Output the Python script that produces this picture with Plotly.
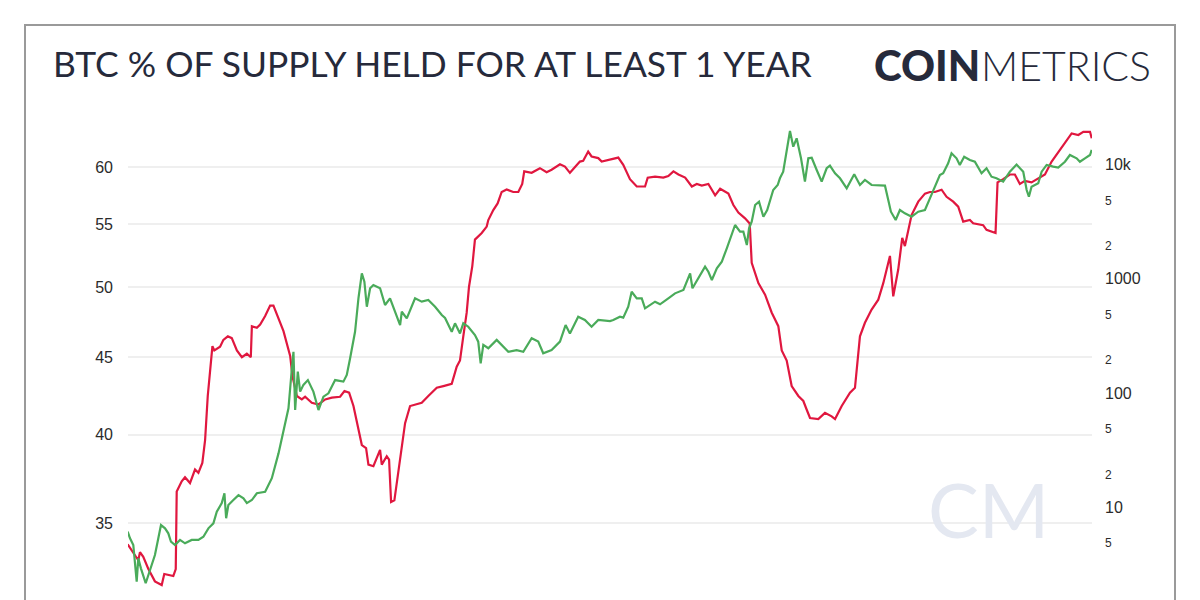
import pandas as pd
import plotly.graph_objects as go

# ---------------- data ----------------
# % of BTC supply held for at least 1 year (left axis), x as decimal year
red_year = [
    2011.718, 2011.787, 2011.818, 2011.834, 2011.865, 2011.912, 2011.975, 2012.039, 2012.063, 2012.148,
    2012.171, 2012.180, 2012.227, 2012.258, 2012.305, 2012.352, 2012.384, 2012.421, 2012.447, 2012.472,
    2012.516, 2012.534, 2012.588, 2012.619, 2012.661, 2012.698, 2012.746, 2012.793, 2012.840, 2012.877,
    2012.887, 2012.934, 2012.965, 2013.012, 2013.059, 2013.090, 2013.138, 2013.185, 2013.248, 2013.270,
    2013.311, 2013.358, 2013.389, 2013.452, 2013.515, 2013.578, 2013.641, 2013.719, 2013.760, 2013.804,
    2013.845, 2013.877, 2013.924, 2013.964, 2013.986, 2014.033, 2014.096, 2014.112, 2014.159, 2014.181,
    2014.200, 2014.231, 2014.285, 2014.332, 2014.379, 2014.426, 2014.489, 2014.551, 2014.631, 2014.693,
    2014.772, 2014.819, 2014.850, 2014.881, 2014.913, 2014.935, 2014.966, 2014.991, 2015.055, 2015.102,
    2015.117, 2015.164, 2015.205, 2015.243, 2015.290, 2015.352, 2015.400, 2015.437, 2015.456, 2015.526,
    2015.604, 2015.667, 2015.714, 2015.793, 2015.840, 2015.887, 2015.934, 2015.981, 2016.012, 2016.059,
    2016.091, 2016.154, 2016.186, 2016.264, 2016.311, 2016.342, 2016.389, 2016.452, 2016.516, 2016.594,
    2016.619, 2016.688, 2016.766, 2016.813, 2016.861, 2016.908, 2016.971, 2017.034, 2017.081, 2017.128,
    2017.190, 2017.254, 2017.301, 2017.379, 2017.426, 2017.473, 2017.536, 2017.580, 2017.599, 2017.662,
    2017.725, 2017.788, 2017.850, 2017.882, 2017.929, 2017.976, 2018.039, 2018.086, 2018.117, 2018.149,
    2018.227, 2018.290, 2018.353, 2018.385, 2018.448, 2018.526, 2018.573, 2018.620, 2018.667, 2018.730,
    2018.793, 2018.840, 2018.903, 2018.934, 2018.981, 2019.019, 2019.044, 2019.107, 2019.170, 2019.233,
    2019.280, 2019.327, 2019.390, 2019.437, 2019.500, 2019.547, 2019.594, 2019.657, 2019.688, 2019.782,
    2019.814, 2019.899, 2019.918, 2019.971, 2020.034, 2020.081, 2020.128, 2020.175, 2020.238, 2020.317,
    2020.364, 2020.427, 2020.505, 2020.583, 2020.615, 2020.678, 2020.725, 2020.788, 2020.804,
]
red_pct = [
    33.89, 33.34, 33.08, 33.49, 33.25, 32.66, 32.04, 31.86, 32.40, 32.30,
    32.64, 36.71, 37.28, 37.51, 37.18, 37.95, 37.76, 38.33, 39.67, 42.42,
    45.74, 45.45, 45.70, 46.18, 46.43, 46.30, 45.45, 44.98, 45.22, 44.98,
    47.15, 47.03, 47.27, 47.88, 48.64, 48.64, 47.63, 46.79, 45.07, 43.70,
    42.42, 42.20, 42.37, 41.99, 41.88, 42.20, 42.31, 42.37, 42.74, 42.63,
    41.78, 40.71, 39.38, 39.20, 38.23, 38.14, 39.10, 38.23, 38.72, 38.52,
    36.13, 36.22, 38.72, 40.71, 41.78, 41.88, 41.99, 42.42, 42.95, 43.06,
    43.21, 44.34, 44.76, 46.43, 48.12, 50.05, 51.64, 53.75, 54.29, 54.82,
    55.37, 56.21, 56.78, 57.77, 57.99, 57.77, 57.77, 58.48, 59.60, 59.47,
    59.89, 59.52, 59.75, 60.25, 60.03, 59.47, 60.03, 60.49, 60.56, 61.42,
    60.96, 60.81, 60.49, 60.65, 60.81, 60.86, 60.19, 58.90, 58.25, 58.25,
    59.04, 59.13, 59.04, 59.18, 59.60, 59.32, 59.04, 58.25, 58.48, 58.33,
    58.48, 57.48, 58.05, 57.63, 56.64, 56.00, 55.51, 55.08, 51.90, 50.32,
    49.45, 48.12, 47.15, 45.45, 44.76, 43.06, 42.42, 42.10, 41.56, 41.03,
    40.96, 41.35, 41.13, 40.96, 41.78, 42.63, 42.95, 46.43, 47.39, 48.35,
    49.08, 50.32, 52.44, 49.33, 51.37, 53.89, 53.23, 55.79, 56.93, 57.63,
    57.77, 57.77, 57.97, 57.35, 56.93, 56.50, 55.23, 55.37, 55.09, 54.94,
    54.55, 54.29, 58.62, 58.90, 59.32, 59.32, 58.48, 58.75, 58.62, 59.04,
    59.32, 60.49, 61.58, 62.67, 63.13, 62.98, 63.28, 63.28, 62.67,
]

# BTC price in USD (right axis, log), x as decimal year
price_year = [
    2011.718, 2011.740, 2011.771, 2011.803, 2011.818, 2011.843, 2011.888, 2011.928, 2011.975, 2012.007,
    2012.032, 2012.070, 2012.101, 2012.126, 2012.164, 2012.211, 2012.258, 2012.321, 2012.384, 2012.431,
    2012.478, 2012.525, 2012.557, 2012.604, 2012.629, 2012.645, 2012.666, 2012.713, 2012.761, 2012.808,
    2012.840, 2012.887, 2012.934, 2013.012, 2013.075, 2013.138, 2013.185, 2013.232, 2013.264, 2013.279,
    2013.295, 2013.320, 2013.342, 2013.373, 2013.415, 2013.467, 2013.515, 2013.562, 2013.609, 2013.672,
    2013.750, 2013.782, 2013.813, 2013.860, 2013.892, 2013.924, 2013.948, 2013.971, 2014.002, 2014.033,
    2014.096, 2014.143, 2014.190, 2014.238, 2014.285, 2014.301, 2014.348, 2014.426, 2014.489, 2014.551,
    2014.615, 2014.678, 2014.709, 2014.772, 2014.803, 2014.850, 2014.881, 2014.928, 2014.991, 2015.022,
    2015.045, 2015.070, 2015.117, 2015.196, 2015.258, 2015.306, 2015.384, 2015.447, 2015.526, 2015.588,
    2015.635, 2015.714, 2015.793, 2015.846, 2015.887, 2015.965, 2016.028, 2016.091, 2016.154, 2016.264,
    2016.295, 2016.358, 2016.389, 2016.436, 2016.468, 2016.516, 2016.563, 2016.594, 2016.688, 2016.735,
    2016.813, 2016.876, 2016.955, 2017.018, 2017.040, 2017.096, 2017.159, 2017.190, 2017.223, 2017.270,
    2017.317, 2017.364, 2017.404, 2017.442, 2017.489, 2017.520, 2017.553, 2017.574, 2017.599, 2017.631,
    2017.668, 2017.709, 2017.745, 2017.771, 2017.802, 2017.844, 2017.865, 2017.896, 2017.929, 2017.960,
    2017.991, 2018.023, 2018.064, 2018.101, 2018.133, 2018.165, 2018.212, 2018.259, 2018.306, 2018.337,
    2018.385, 2018.432, 2018.495, 2018.566, 2018.620, 2018.667, 2018.730, 2018.793, 2018.856, 2018.887,
    2018.912, 2018.957, 2018.997, 2019.044, 2019.107, 2019.170, 2019.233, 2019.280, 2019.327, 2019.374,
    2019.405, 2019.452, 2019.484, 2019.531, 2019.562, 2019.603, 2019.657, 2019.704, 2019.767, 2019.814,
    2019.861, 2019.908, 2019.971, 2020.034, 2020.097, 2020.160, 2020.192, 2020.213, 2020.238, 2020.301,
    2020.333, 2020.380, 2020.442, 2020.489, 2020.552, 2020.599, 2020.662, 2020.693, 2020.740, 2020.788,
    2020.804,
]
price_usd = [
    6.13, 5.37, 4.69, 2.24, 3.59, 2.93, 2.17, 2.83, 3.83, 5.37,
    7.01, 6.56, 5.93, 5.01, 4.69, 5.19, 4.85, 5.19, 5.19, 5.54,
    6.56, 7.26, 9.17, 10.9, 13.3, 8.03, 10.5, 11.6, 12.8, 12.0,
    10.9, 11.6, 13.3, 13.7, 18.0, 29.7, 45.9, 73.6, 165, 230,
    71.1, 154, 103, 118, 130, 103, 71.1, 93.0, 99.6, 130,
    126, 144, 201, 344, 675, 1117, 944, 570, 826, 883,
    826, 590, 675, 515, 394, 515, 451, 675, 631, 653,
    570, 482, 454, 344, 408, 333, 408, 381, 322, 282,
    182, 264, 247, 292, 255, 230, 238, 230, 302, 282,
    223, 238, 282, 394, 333, 466, 436, 381, 436, 427,
    436, 466, 457, 570, 771, 675, 675, 552, 631, 598,
    675, 746, 798, 1117, 826, 1010, 1276, 1153, 977, 1236,
    1413, 1849, 2335, 2956, 2582, 2582, 1976, 2766, 3162, 4424,
    4728, 3494, 4000, 4891, 5984, 6616, 7574, 8650, 12950, 19630,
    14320, 16950, 11330, 7075, 11330, 11460, 8950, 7075, 9270, 9770,
    8375, 7574, 6190, 8210, 6616, 7320, 6616, 6616, 6530, 4891,
    3865, 3269, 4000, 3741, 3494, 3865, 4000, 5058, 6392, 8090,
    8375, 10240, 12530, 11330, 9910, 11700, 10950, 10570, 8375, 9270,
    7820, 7574, 7075, 8650, 10000, 8650, 5984, 5228, 6392, 6850,
    8650, 9910, 9570, 9380, 10570, 12110, 11330, 10570, 11330, 12110,
    13400,
]

left_ticks = [35, 40, 45, 50, 55, 60]
right_ticks = [5, 10, 20, 50, 100, 200, 500, 1000, 2000, 5000, 10000]
right_labels = ["5", "10", "2", "5", "100", "2", "5", "1000", "2", "5", "10k"]
major_labels = {"10", "100", "1000", "10k"}

TITLE = "BTC % OF SUPPLY HELD FOR AT LEAST 1 YEAR"


def to_date(y):
    yr = int(y)
    start = pd.Timestamp(year=yr, month=1, day=1)
    ndays = (pd.Timestamp(year=yr + 1, month=1, day=1) - start).days
    return start + pd.Timedelta(days=(y - yr) * ndays)


red_dates = [to_date(v) for v in red_year]
price_dates = [to_date(v) for v in price_year]

# ---------------- layout geometry ----------------
W, H = 1200, 600
ML, MR, MT, MB = 128, 108, 120, 0
PW, PH = W - ML - MR, H - MT - MB


def px(x):
    return (x - ML) / PW


def py(y):
    return (H - MB - y) / PH


RED = "#e0173f"
GREEN = "#4aab5a"
INK = "#262a3b"

fig = go.Figure()
fig.add_trace(go.Scatter(x=price_dates, y=price_usd, mode="lines", yaxis="y2",
                         line=dict(color=GREEN, width=2.2), name="Price",
                         hoverinfo="skip"))
fig.add_trace(go.Scatter(x=red_dates, y=red_pct, mode="lines", yaxis="y",
                         line=dict(color=RED, width=2.2),
                         name="% supply held ≥1y", hoverinfo="skip"))

right_text = [
    (f'<span style="font-size:16px">{t}</span>' if t in major_labels
     else f'<span style="font-size:12px">{t}</span>')
    for t in right_labels
]

fig.update_layout(
    width=W, height=H,
    margin=dict(l=ML, r=MR, t=MT, b=MB, autoexpand=False),
    paper_bgcolor="white", plot_bgcolor="white",
    showlegend=False,
    font=dict(family="Liberation Sans, Arial, sans-serif", color="#2b2b2b"),
    xaxis=dict(type="date", range=[to_date(2011.721), to_date(2020.8067)],
               showgrid=False, zeroline=False, showticklabels=False,
               showline=False, ticks=""),
    yaxis=dict(type="log", range=[1.49342, 1.80903],
               tickvals=left_ticks, ticktext=[str(t) for t in left_ticks],
               tickfont=dict(size=16, color="#2b2b2b"),
               showgrid=True, gridcolor="#efefef", gridwidth=2,
               zeroline=False, showline=False, ticks="",
               ticklabelstandoff=14),
    yaxis2=dict(type="log", range=[0.1899, 4.3893], overlaying="y", side="right",
                tickvals=right_ticks, ticktext=right_text,
                tickfont=dict(size=16, color="#2b2b2b"),
                showgrid=False, zeroline=False, showline=False, ticks="",
                ticklabelstandoff=12),
)

# outer frame (bottom edge runs off the page, as in the reference)
fig.add_shape(type="rect", xref="paper", yref="paper",
              x0=px(25), x1=px(1175), y0=py(650), y1=py(25),
              line=dict(color="#9a9a9a", width=2), fillcolor="rgba(0,0,0,0)",
              layer="below")

fig.add_annotation(text=TITLE, xref="paper", yref="paper",
                   x=px(51), y=py(63), xanchor="left", yanchor="middle",
                   showarrow=False,
                   font=dict(family="Lato", size=35.4, color=INK))
fig.add_annotation(text="COIN", xref="paper", yref="paper",
                   x=px(872), y=py(65), xanchor="left", yanchor="middle",
                   showarrow=False,
                   font=dict(family="Lato", size=42, color=INK, weight=900))
fig.add_annotation(text="METRICS", xref="paper", yref="paper",
                   x=px(979), y=py(65), xanchor="left", yanchor="middle",
                   showarrow=False,
                   font=dict(family="Lato", size=41, color=INK, weight=300))
# faint watermark
fig.add_annotation(text="CM", xref="paper", yref="paper",
                   x=px(988), y=py(508), xanchor="center", yanchor="middle",
                   showarrow=False,
                   font=dict(family="Lato", size=76, color="#e4e8f1", weight=400))

fig.write_html("out.html")
